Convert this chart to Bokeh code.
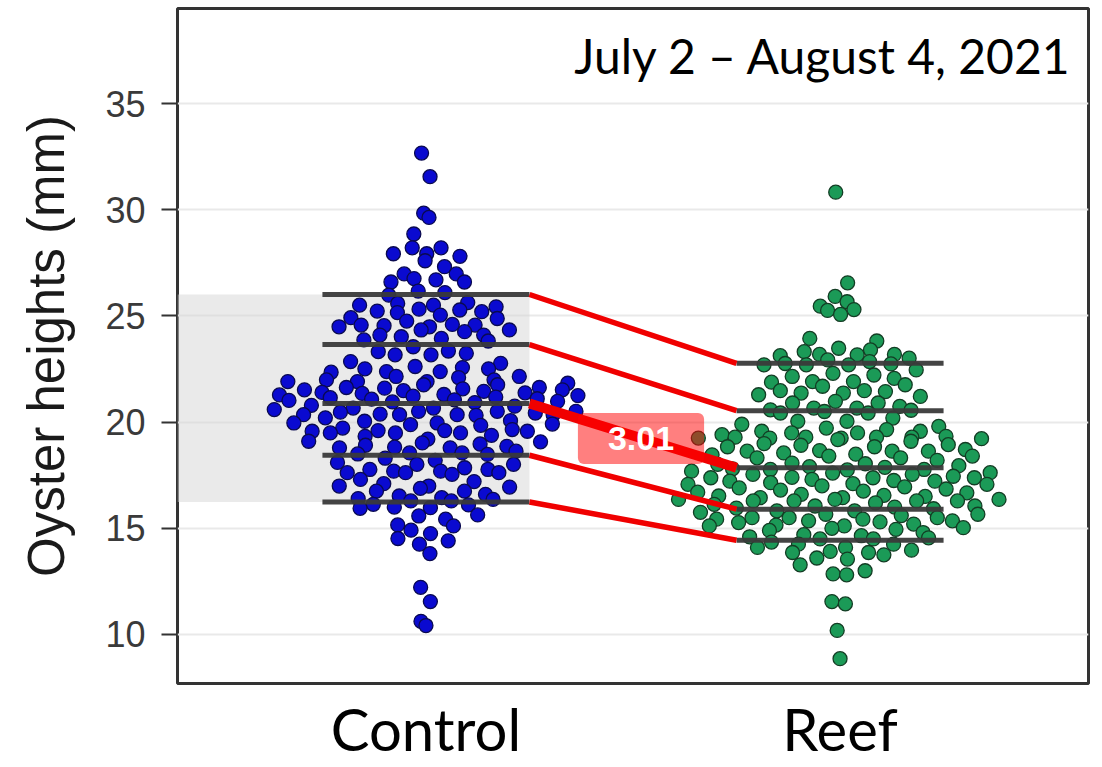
import numpy as np
from bokeh.plotting import figure
from bokeh.models import Range1d, FixedTicker, Label, ColumnDataSource
from bokeh.embed import file_html
from bokeh.resources import INLINE

# ---------------- data ----------------
categories = ["Control", "Reef"]
category_positions = [1, 2]

control_heights = [
    32.67, 31.56, 29.84, 29.64, 28.86, 28.21, 28.21, 27.93, 27.93, 27.81,
    27.60, 27.32, 26.98, 26.98, 26.76, 26.70, 26.60, 26.60, 26.17, 26.10,
    25.98, 25.63, 25.59, 25.51, 25.51, 25.43, 25.32, 25.28, 25.23, 25.20,
    25.16, 25.04, 24.92, 24.88, 24.76, 24.60, 24.57, 24.57, 24.54, 24.49,
    24.49, 24.34, 24.34, 24.26, 24.10, 24.10, 24.02, 23.94, 23.87, 23.82,
    23.55, 23.35, 23.32, 23.24, 23.17, 23.17, 22.85, 22.77, 22.62, 22.57,
    22.51, 22.51, 22.38, 22.38, 22.35, 22.15, 22.15, 22.10, 21.99, 21.99,
    21.91, 21.91, 21.91, 21.83, 21.76, 21.76, 21.63, 21.63, 21.60, 21.57,
    21.52, 21.52, 21.48, 20.98, 21.45, 21.40, 21.38, 21.35, 21.30, 21.28,
    21.25, 21.22, 21.18, 21.15, 21.10, 21.08, 21.05, 21.02, 20.95, 20.92,
    20.79, 20.75, 20.66, 20.66, 20.59, 20.51, 20.51, 20.51, 20.47, 20.43,
    20.38, 20.35, 20.35, 20.35, 20.35, 20.32, 20.20, 20.07, 20.04, 19.96,
    19.96, 19.91, 19.88, 19.85, 19.72, 19.65, 19.60, 19.60, 19.57, 19.57,
    19.49, 19.49, 19.49, 19.38, 19.33, 19.20, 19.10, 19.07, 19.02, 18.97,
    18.91, 18.86, 18.82, 18.79, 18.79, 18.63, 18.55, 18.55, 18.50, 18.48,
    18.30, 18.20, 18.10, 18.01, 18.01, 17.85, 17.77, 17.77, 17.69, 17.69,
    17.62, 17.62, 17.62, 17.54, 17.30, 17.20, 17.10, 16.99, 16.99, 16.94,
    16.88, 16.75, 16.75, 16.60, 16.52, 16.44, 16.40, 16.36, 16.29, 16.29,
    16.13, 16.10, 16.00, 15.97, 15.94, 15.63, 15.58, 15.43, 15.16, 15.11,
    14.91, 14.75, 14.52, 14.41, 14.25, 13.81, 12.22, 11.55, 10.62, 10.42,
]

reef_heights = [
    30.83, 26.56, 25.92, 25.67, 25.46, 25.30, 25.26, 25.07, 23.94, 23.82,
    23.48, 23.40, 23.32, 23.19, 23.19, 23.17, 23.13, 23.01, 22.93, 22.85,
    22.70, 22.70, 22.70, 22.76, 22.74, 22.46, 22.30, 22.22, 22.15, 22.06,
    21.91, 21.91, 21.88, 21.76, 21.69, 21.48, 21.48, 21.44, 21.37, 21.37,
    21.29, 21.21, 20.98, 20.90, 20.90, 20.74, 20.66, 20.66, 20.58, 20.56,
    20.50, 20.43, 20.43, 20.19, 20.04, 20.04, 19.90, 19.80, 19.72, 19.65,
    19.57, 19.57, 19.49, 19.49, 19.41, 19.33, 19.29, 19.29, 19.29, 19.29,
    19.25, 19.25, 19.25, 19.22, 19.18, 19.10, 18.99, 18.94, 18.91, 18.84,
    18.84, 18.71, 18.66, 18.63, 18.63, 18.63, 18.55, 18.49, 18.46, 18.40,
    18.40, 18.32, 18.32, 18.20, 18.07, 18.04, 18.01, 17.95, 17.90, 17.87,
    17.80, 17.77, 17.77, 17.75, 17.69, 17.62, 17.60, 17.54, 17.54, 17.45,
    17.40, 17.38, 17.38, 17.38, 17.30, 17.25, 17.22, 17.22, 17.15, 17.10,
    17.07, 17.07, 17.00, 16.95, 16.90, 16.85, 16.80, 16.75, 16.70, 16.67,
    16.60, 16.55, 16.52, 16.50, 16.44, 16.44, 16.36, 16.36, 16.36, 16.29,
    16.29, 16.29, 16.29, 16.20, 16.13, 16.05, 16.05, 16.00, 15.95, 15.92,
    15.82, 15.82, 15.75, 15.66, 15.66, 15.60, 15.50, 15.50, 15.50, 15.43,
    15.43, 15.35, 15.35, 15.30, 15.27, 15.20, 15.15, 15.11, 15.11, 15.03,
    15.00, 14.95, 14.90, 14.80, 14.70, 14.65, 14.60, 14.55, 14.50, 14.50,
    14.35, 14.25, 14.25, 14.10, 14.10, 13.97, 13.91, 13.86, 13.86, 13.75,
    13.60, 13.55, 13.28, 13.00, 12.85, 12.81, 11.55, 11.44, 10.19, 8.86,
]

# quantile lines (10%, 25%, 50%, 75%, 90%) as drawn in the picture
control_quantiles = [16.24, 18.44, 20.88, 23.65, 26.01]
reef_quantiles = [14.44, 15.90, 17.85, 20.54, 22.77]
median_difference_label = "3.01"
date_range_label = "July 2 \u2013 August 4, 2021"
y_ticks = [10, 15, 20, 25, 30, 35]
y_axis_title = "Oyster heights (mm)"

# ---------------- quasirandom (van der Corput) layout ----------------
def van_der_corput(n, base=2):
    out = []
    for i in range(1, n + 1):
        v, denom, k = 0.0, 1.0, i
        while k:
            denom *= base
            k, r = divmod(k, base)
            v += r / denom
        out.append(v)
    return np.array(out)


def quasirandom_offsets(vals, width=0.4, adjust=0.5):
    y = np.asarray(vals, dtype=float)
    n = len(y)
    sd = y.std(ddof=1)
    q75, q25 = np.percentile(y, [75, 25])
    bw = 0.9 * min(sd, (q75 - q25) / 1.34) * n ** -0.2 * adjust
    dens = np.exp(-0.5 * ((y[:, None] - y[None, :]) / bw) ** 2).sum(axis=1)
    dens = dens / dens.max()
    ranks = np.argsort(np.argsort(y, kind="stable"), kind="stable")
    return (van_der_corput(n)[ranks] - 0.5) * 2 * width * dens


# ---------------- figure ----------------
p = figure(width=1100, height=765, output_backend="svg", toolbar_location=None,
           x_range=Range1d(0.4, 2.6), y_range=Range1d(7.69, 39.48),
           min_border_left=177, min_border_right=12, min_border_top=8,
           min_border_bottom=82)
p.background_fill_color = "white"
p.border_fill_color = "white"
p.outline_line_color = "#333333"
p.outline_line_width = 3

p.xgrid.grid_line_color = None
p.ygrid.ticker = FixedTicker(ticks=y_ticks)
p.ygrid.grid_line_color = "#e9e9e9"
p.ygrid.grid_line_width = 2

# x axis: category names
xax = p.xaxis[0]
xax.ticker = FixedTicker(ticks=category_positions)
xax.major_label_overrides = {pos: cat for pos, cat in zip(category_positions, categories)}
xax.axis_line_color = None
xax.major_tick_in = 0
xax.major_tick_out = 0
xax.minor_tick_line_color = None
xax.major_label_text_font = "Lato"
xax.major_label_text_font_size = "58px"
xax.major_label_text_color = "black"
xax.major_label_standoff = 10

yax = p.yaxis[0]
yax.ticker = FixedTicker(ticks=y_ticks)
yax.axis_line_color = None
yax.major_tick_in = 0
yax.major_tick_out = 16
yax.major_tick_line_color = "#333333"
yax.major_tick_line_width = 2
yax.minor_tick_line_color = None
yax.major_label_text_font = "Liberation Sans"
yax.major_label_text_font_size = "36px"
yax.major_label_text_color = "#3a3a3a"
yax.major_label_standoff = 16
yax.axis_label = y_axis_title
yax.axis_label_text_font = "Liberation Sans"
yax.axis_label_text_font_size = "51px"
yax.axis_label_text_font_style = "normal"
yax.axis_label_text_color = "#1a1a1a"
yax.axis_label_standoff = 27

# grey band spanning the Control 10%-90% quantiles
p.quad(left=[0.4], right=[category_positions[0] + 0.25],
       bottom=[control_quantiles[0]], top=[control_quantiles[-1]],
       fill_color="#d6d6d6", fill_alpha=0.5, line_color=None)

# points
colors = {"Control": ("#0a0ad0", "#0a0a50"), "Reef": ("#1b9a57", "#133d24")}
for cat, pos, vals in zip(categories, category_positions, [control_heights, reef_heights]):
    offs = quasirandom_offsets(vals)
    src = ColumnDataSource(dict(x=pos + offs, y=np.asarray(vals)))
    fill, line = colors[cat]
    p.scatter("x", "y", source=src, size=14, fill_color=fill, line_color=line,
              line_width=1.3)

# quantile lines
for pos, qs in zip(category_positions, [control_quantiles, reef_quantiles]):
    p.segment(x0=[pos - 0.25] * len(qs), x1=[pos + 0.25] * len(qs), y0=qs, y1=qs,
              line_color="#3a3a3a", line_width=5, line_alpha=0.95)

# red connecting lines
widths = [5.5, 5.5, 10, 5.5, 5.5]
for cq, rq, w in zip(control_quantiles, reef_quantiles, widths):
    p.segment(x0=[category_positions[0] + 0.25], x1=[category_positions[1] - 0.25],
              y0=[cq], y1=[rq], line_color="#f00000", line_width=w)

# median difference label
mid_x = (category_positions[0] + category_positions[1]) / 2
mid_y = (control_quantiles[2] + reef_quantiles[2]) / 2
p.add_layout(Label(x=mid_x, y=mid_y, text=median_difference_label,
                   text_align="center", text_baseline="middle",
                   x_offset=8, y_offset=-3,
                   text_font="Liberation Sans", text_font_style="bold",
                   text_font_size="34px", text_color="white",
                   background_fill_color="#ff0000", background_fill_alpha=0.5,
                   border_radius=6, padding=(30, 14)))

# date range annotation
p.add_layout(Label(x=2.561, y=37.26, text=date_range_label, text_align="right",
                   text_baseline="alphabetic", text_font="Lato",
                   text_font_size="48px", text_color="black"))

open("out.html", "w").write(file_html(p, INLINE))
